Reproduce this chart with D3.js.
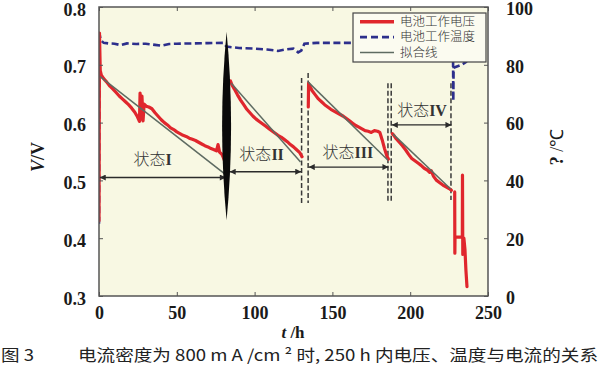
<!DOCTYPE html>
<html><head><meta charset="utf-8">
<script src="https://cdn.jsdelivr.net/npm/d3@7"></script>
<style>
html,body{margin:0;padding:0;background:#fff;}
svg{display:block;}
</style></head>
<body>
<svg id="c" width="600" height="367"></svg>
<script>
// ---------- data ----------
const xTicks = [0, 50, 100, 150, 200, 250];
const vTicks = [0.3, 0.4, 0.5, 0.6, 0.7, 0.8];
const tTicks = [0, 20, 40, 60, 80, 100];

// voltage segments [t (h), V]
const volt1 = [[0,0.43],[0.3,0.755],[0.8,0.69],[1.5,0.682],[3,0.676],[5,0.670],[7,0.663],[9,0.658],[11,0.652],[13,0.646],[15,0.641],[17,0.636],[19,0.631],[21,0.625],[23,0.618],[24.7,0.610],[26,0.602],[26.4,0.651],[26.9,0.606],[27.6,0.646],[28.3,0.603],[29,0.632],[30.5,0.628],[32,0.627],[34,0.624],[36,0.617],[38,0.611],[40,0.605],[42,0.600],[44,0.596],[46,0.591],[48,0.588],[50,0.584],[52,0.581],[54,0.578],[56,0.576],[58,0.573],[60,0.571],[62,0.569],[64,0.566],[66,0.563],[68,0.560],[70,0.558],[72,0.555],[74,0.553],[75.5,0.551],[76.5,0.562],[77.5,0.549],[79,0.545],[80,0.539],[81,0.532]];
const volt2 = [[84.5,0.672],[85.5,0.665],[87,0.658],[89,0.648],[91,0.639],[93,0.631],[95,0.623],[97,0.617],[99,0.611],[101,0.606],[103,0.602],[105,0.598],[107,0.594],[109,0.590],[111,0.586],[113,0.582],[115,0.578],[117,0.575],[119,0.571],[121,0.567],[123,0.562],[125,0.558],[127,0.553],[129,0.548],[130.5,0.541]];
const volt3 = [[134.5,0.627],[134.7,0.668],[135.5,0.663],[137,0.655],[139,0.648],[141,0.641],[143,0.636],[145,0.631],[147,0.627],[149,0.623],[151,0.620],[153,0.617],[155,0.614],[157,0.611],[159,0.607],[161,0.603],[163,0.599],[165,0.595],[167,0.592],[169,0.589],[171,0.586],[173,0.585],[175,0.583],[177,0.586],[179,0.585],[180.5,0.583],[182,0.570],[183.5,0.555],[185,0.542],[186,0.537]];
const volt4 = [[188.5,0.581],[189.5,0.578],[191,0.572],[193,0.566],[195,0.560],[197,0.553],[199,0.545],[201,0.538],[203,0.534],[205,0.530],[207,0.526],[209,0.521],[211,0.518],[212.5,0.514],[213.5,0.517],[215,0.507],[217,0.500],[219,0.496],[221,0.492],[223,0.489],[225,0.486],[226.5,0.483]];
const volt5 = [[228.6,0.480],[228.7,0.374],[228.8,0.402],[233.5,0.402],[233.6,0.509],[233.8,0.372],[234.5,0.400],[235.2,0.380],[235.8,0.345],[236.5,0.316]];

// temperature [t (h), °C]
const temp = [[0,25],[0.3,91],[1,88.6],[3,87.6],[6,87.4],[10,87.3],[14,86.8],[18,87.4],[24,87.2],[30,87.3],[36,86.9],[40,86.6],[45,87.2],[50,87.3],[60,87.4],[70,87.5],[80,87.6],[82,86.3],[90,85.8],[100,85.6],[108,85.3],[115,84.8],[120,85.3],[125,85.6],[128,84.3],[130,84.9],[132,87.3],[140,87.6],[150,87.6],[160,87.6],[200,87.6],[227.5,87.5],[227.7,67.5],[227.9,79],[233,80],[236,81],[238,83]];

// fitted lines [t, V]
const fit1 = [[0.5,0.680],[81,0.511]];
const fit2 = [[85,0.668],[129.5,0.532]];
const fit3 = [[134.5,0.670],[185.7,0.535]];
const fit4 = [[189,0.580],[226,0.485]];

// dashed vertical markers: t, Vtop, Vbottom
const dashT = [130.2, 134.4, 185.7, 187.8, 226.2];
const dashTop = [0.677, 0.686, 0.668, 0.668, 0.668];
const dashBot = [0.461, 0.461, 0.463, 0.463, 0.466];

// state arrows: from t, to t, V level, label, label t, label V
const stateNames = ["I", "II", "III", "IV"];
const stateFrom = [0.5, 84, 134.8, 188.2];
const stateTo = [81.5, 130, 186, 226.5];
const stateV = [0.505, 0.515, 0.523, 0.596];
const stateLabelT = [34.5, 104.5, 160, 207.6];
const stateLabelV = [0.537, 0.546, 0.550, 0.622];

// black lens marker
const lensT = 82, lensTop = 0.757, lensBot = 0.431;

const legendLabels = ["电池工作电压", "电池工作温度", "拟合线"];

// ---------- drawing ----------
const svg = d3.select("#c");
const x = d3.scaleLinear([0, 250], [99, 488]);
const yV = d3.scaleLinear([0.3, 0.8], [296, 7]);
const yT = d3.scaleLinear([0, 100], [296, 7]);

const defs = svg.append("defs");
defs.append("clipPath").attr("id", "clip").append("rect")
  .attr("x", 99).attr("y", 7).attr("width", 389).attr("height", 289);
defs.append("marker").attr("id", "ah").attr("viewBox", "0 0 10 10")
  .attr("refX", 10).attr("refY", 5).attr("markerWidth", 7).attr("markerHeight", 6)
  .attr("markerUnits", "userSpaceOnUse").attr("orient", "auto-start-reverse")
  .append("path").attr("d", "M0,0 L10,5 L0,10 Z").attr("fill", "#2b2b2b");

svg.append("rect").attr("x", 99).attr("y", 7).attr("width", 389).attr("height", 289)
  .attr("fill", "#f8f8e3");

const g = svg.append("g").attr("clip-path", "url(#clip)");

const line = d3.line().x(d => x(d[0])).y(d => yV(d[1]));
const lineT = d3.line().x(d => x(d[0])).y(d => yT(d[1]));

// dashed vertical markers
dashT.forEach((t, i) => {
  g.append("line").attr("x1", x(t)).attr("x2", x(t))
    .attr("y1", yV(dashTop[i])).attr("y2", yV(dashBot[i]))
    .attr("stroke", "#3a3a3a").attr("stroke-width", 1.5).attr("stroke-dasharray", "5,2.5");
});

// temperature
g.append("path").attr("d", lineT(temp)).attr("fill", "none")
  .attr("stroke", "#2d2f8c").attr("stroke-width", 2.6).attr("stroke-dasharray", "7,3.5");

// voltage
[volt1, volt2, volt3, volt4, volt5].forEach(s => {
  g.append("path").attr("d", line(s)).attr("fill", "none")
    .attr("stroke", "#e0262d").attr("stroke-width", 3.2)
    .attr("stroke-linejoin", "round").attr("stroke-linecap", "round");
});

// fit lines
[fit1, fit2, fit3, fit4].forEach(s => {
  g.append("path").attr("d", line(s)).attr("fill", "none")
    .attr("stroke", "#5e6b62").attr("stroke-width", 1.5);
});

// state arrows
stateNames.forEach((n, i) => {
  g.append("line").attr("x1", x(stateFrom[i])).attr("x2", x(stateTo[i]))
    .attr("y1", yV(stateV[i])).attr("y2", yV(stateV[i]))
    .attr("stroke", "#2b2b2b").attr("stroke-width", 1.3)
    .attr("marker-start", "url(#ah)").attr("marker-end", "url(#ah)");
  const tx = svg.append("text").attr("x", x(stateLabelT[i])).attr("y", yV(stateLabelV[i]) + 6)
    .attr("text-anchor", "middle").attr("fill", "#333").attr("font-size", 16);
  tx.append("tspan").attr("font-family", "Noto Sans CJK SC").attr("font-weight", 300).text("状态");
  tx.append("tspan").attr("font-family", "Liberation Serif").attr("font-weight", "bold").text(n);
});

// black lens
{
  const cx = x(lensT), t0 = yV(lensTop), b0 = yV(lensBot), m = (t0 + b0) / 2;
  svg.append("path")
    .attr("d", `M${cx},${t0} Q${cx + 9},${m} ${cx},${b0} Q${cx - 9},${m} ${cx},${t0} Z`)
    .attr("fill", "#0a0a0a");
}

// axes
const tickFont = sel => sel.selectAll("text").attr("font-family", "Liberation Serif")
  .attr("font-weight", "bold").attr("font-size", 18).attr("fill", "#1a1a1a");
const axStyle = sel => { sel.select(".domain").remove(); sel.selectAll("line").attr("stroke", "#555"); };

svg.append("g").attr("transform", "translate(0,296)")
  .call(d3.axisBottom(x).tickValues(xTicks).tickSize(-4).tickPadding(10).tickFormat(d3.format("d")))
  .call(axStyle).call(tickFont);
svg.append("g").attr("transform", "translate(0,7)")
  .call(d3.axisTop(x).tickValues(xTicks).tickSize(-4).tickFormat(""))
  .call(axStyle);
svg.append("g").attr("transform", "translate(99,0)")
  .call(d3.axisLeft(yV).tickValues(vTicks).tickSize(-4).tickPadding(13).tickFormat(d3.format(".1f")))
  .call(axStyle).call(tickFont)
  .call(s => s.selectAll("text").attr("dy", "0.45em"));
svg.append("g").attr("transform", "translate(488,0)")
  .call(d3.axisRight(yT).tickValues(tTicks).tickSize(-4).tickPadding(18).tickFormat(d3.format("d")))
  .call(axStyle).call(tickFont)
  .call(s => s.selectAll("text").attr("dy", "0.4em"));

svg.append("rect").attr("x", 99).attr("y", 7).attr("width", 389).attr("height", 289)
  .attr("fill", "none").attr("stroke", "#555").attr("stroke-width", 1.5);

// legend
const lg = svg.append("g");
lg.append("rect").attr("x", 353).attr("y", 13).attr("width", 133).attr("height", 49)
  .attr("fill", "#fbfbf0").attr("stroke", "#444").attr("stroke-width", 1.2);
const legY = [21.7, 37.2, 52.5];
const legStroke = ["#e0262d", "#2d2f8c", "#5e6b62"];
const legW = [3.5, 2.8, 1.5];
const legDash = [null, "7,4", null];
legendLabels.forEach((l, i) => {
  lg.append("line").attr("x1", 360).attr("x2", 394).attr("y1", legY[i]).attr("y2", legY[i])
    .attr("stroke", legStroke[i]).attr("stroke-width", legW[i]).attr("stroke-dasharray", legDash[i]);
  lg.append("text").attr("x", 400).attr("y", legY[i] + 4.2).attr("font-family", "Noto Sans CJK SC")
    .attr("font-weight", 300).attr("font-size", 12.5).attr("fill", "#333").text(l);
});

// axis titles
svg.append("text").attr("transform", "translate(44,157) rotate(-90)").attr("text-anchor", "middle")
  .attr("font-family", "Liberation Serif").attr("font-weight", "bold").attr("font-size", 18).attr("fill", "#1a1a1a")
  .call(t => { t.append("tspan").attr("font-style", "italic").text("V"); t.append("tspan").text("/V"); });
svg.append("text").attr("transform", "translate(563,147) rotate(-90)").attr("text-anchor", "middle")
  .attr("font-family", "Liberation Serif").attr("font-weight", "bold").attr("font-size", 18).attr("fill", "#1a1a1a")
  .call(t => { t.append("tspan").text("? "); t.append("tspan").attr("font-weight", "normal").text("/℃"); });
svg.append("text").attr("x", 293).attr("y", 338).attr("text-anchor", "middle")
  .attr("font-family", "Liberation Serif").attr("font-weight", "bold").attr("font-size", 17).attr("fill", "#1a1a1a")
  .call(t => { t.append("tspan").attr("font-style", "italic").text("t"); t.append("tspan").text(" /h"); });

// caption
svg.append("text").attr("x", 1).attr("y", 361).attr("font-family", "Noto Sans CJK SC")
  .attr("font-size", 16).attr("fill", "#222").attr("textLength", 33).attr("lengthAdjust", "spacingAndGlyphs").text("图 3");
svg.append("text").attr("x", 78).attr("y", 361).attr("font-family", "Noto Sans CJK SC")
  .attr("font-size", 16).attr("fill", "#222").attr("textLength", 520).attr("lengthAdjust", "spacingAndGlyphs")
  .text("电流密度为 800 m A /cm ² 时, 250 h 内电压、温度与电流的关系");
</script>
</body></html>
